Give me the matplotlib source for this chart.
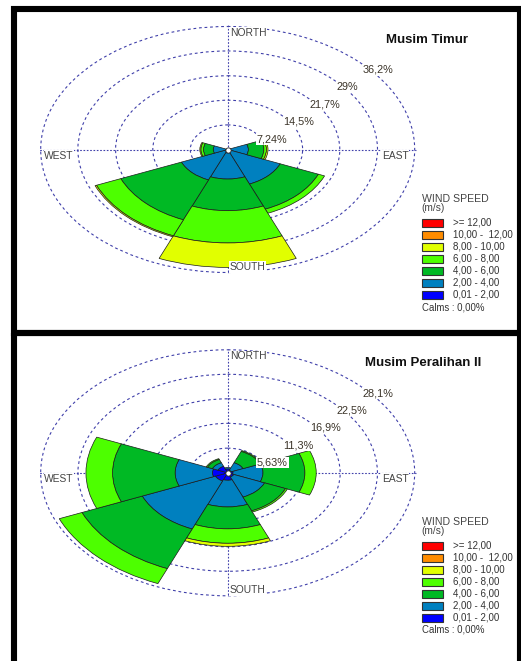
import numpy as np
import matplotlib
matplotlib.use("Agg")
import matplotlib.pyplot as plt
from matplotlib.patches import Rectangle

plt.rcParams.update({
	"font.family": ["Liberation Sans", "DejaVu Sans"],
})

# directions in degrees: N, NE, E, SE, S, SW, W, NW
directions = [0, 45, 90, 135, 180, 225, 270, 315]
speed_labels = ["0,01 - 2,00", "2,00 - 4,00", "4,00 - 6,00", "6,00 - 8,00",
				"8,00 - 10,00", "10,00 -  12,00", ">= 12,00"]
speed_colors = ["#0000ff", "#0080bf", "#00b924", "#4dff00", "#e1ff00", "#ff8c00", "#ff0000"]
compass = ["NORTH", "SOUTH", "WEST", "EAST"]

# Musim Timur, frequency (%) per direction for each speed class
timur_0_2 = [0, 0, 0.3, 0.6, 1.0, 0.6, 0.3, 0]
timur_2_4 = [0, 0, 3.7, 10.4, 7.7, 9.1, 2.5, 0]
timur_4_6 = [0, 0, 3.0, 8.0, 9.3, 12.7, 1.9, 0]
timur_6_8 = [0, 0, 0.5, 1.3, 9.5, 5.1, 0.5, 0]
timur_8_10 = [0, 0, 0.3, 0, 7.2, 0.3, 0.2, 0]
timur_10_12 = [0, 0, 0, 0, 0, 0, 0, 0]
timur_12 = [0, 0, 0, 0, 0, 0, 0, 0]
timur_rings = [7.24, 14.5, 21.7, 29, 36.2]
timur_ring_labels = ["7,24%", "14,5%", "21,7%", "29%", "36,2%"]

# Musim Peralihan II
peralihan_0_2 = [0.9, 0.6, 0.8, 1.0, 1.7, 2.0, 2.3, 1.6]
peralihan_2_4 = [0.3, 1.9, 4.5, 5.0, 6.1, 11.9, 5.6, 0.9]
peralihan_4_6 = [0, 2.8, 6.3, 3.4, 5.0, 9.8, 9.4, 0.8]
peralihan_6_8 = [0, 0.2, 1.7, 0.3, 3.3, 3.7, 4.0, 0.2]
peralihan_8_10 = [0, 0, 0, 0, 0.7, 0, 0, 0]
peralihan_10_12 = [0, 0, 0, 0, 0, 0, 0, 0]
peralihan_12 = [0, 0, 0, 0, 0, 0, 0, 0]
peralihan_rings = [5.63, 11.3, 16.9, 22.5, 28.1]
peralihan_ring_labels = ["5,63%", "11,3%", "16,9%", "22,5%", "28,1%"]

W, H = 521, 661
fig = plt.figure(figsize=(W / 100, H / 100), dpi=100)

# overlay in pixel coordinates for frames, titles and legends
ov = fig.add_axes([0, 0, 1, 1])
ov.set_xlim(0, W)
ov.set_ylim(H, 0)
ov.axis("off")
ov.add_patch(Rectangle((14, 9), 505.5, 323.7, fill=False, ec="black", lw=4.4, clip_on=False))
ov.add_patch(Rectangle((14, 332.7), 505.5, 340, fill=False, ec="black", lw=4.4, clip_on=False))

pad = 1.01  # a little room so the outer ring is not clipped
grid_col = "#4040aa"


def draw_rose(cy, bins, rings, ring_labels):
	rh, rv = 187 * pad, 123 * pad
	rect = [(227.7 - rh) / W, 1 - (cy + rv) / H, 2 * rh / W, 2 * rv / H]
	ax = fig.add_axes(rect, projection="polar")
	ax.set_aspect("auto")
	ax.set_theta_zero_location("N")
	ax.set_theta_direction(-1)
	theta = np.deg2rad(directions)
	bottom = np.zeros(len(directions))
	for values, c in zip(bins, speed_colors):
		values = np.array(values, dtype=float)
		m = values > 0
		if m.any():
			ax.bar(theta[m], values[m], width=np.deg2rad(45), bottom=bottom[m],
				   color=c, edgecolor="#1a1a1a", linewidth=0.5, zorder=2)
		bottom += values
	ax.set_ylim(0, rings[-1] * pad)
	ax.set_xticks(np.deg2rad([0, 90, 180, 270]))
	ax.set_xticklabels([""] * 4)
	ax.set_yticks(rings)
	ax.set_yticklabels([""] * len(rings))
	ax.grid(True, color=grid_col, linestyle=(0, (2.5, 2.5)), linewidth=0.8)
	ax.xaxis.grid(True, color=grid_col, linestyle=(0, (1.5, 1.5)), linewidth=0.8)
	ax.set_axisbelow(True)
	ax.spines["polar"].set_visible(False)
	ax.patch.set_alpha(0)
	for r, lab in zip(rings, ring_labels):
		ax.annotate(lab, xy=(np.deg2rad(45), r), xytext=(2.0, -5.2), textcoords="offset points",
					ha="left", va="center", fontsize=7.8, color="#3a3328",
					bbox=dict(fc="white", ec="none", pad=0.6), zorder=4)
	ax.plot([0], [0], "o", ms=3.8, mfc="white", mec="#222222", mew=0.6, zorder=5)

	# compass labels (pixel positions, drawn above the bars)
	pos = [(230, cy - 113.5), (230, cy + 120.5), (44.3, cy + 9.2), (381.7, cy + 9.2)]
	for (x, y), lab in zip(pos, compass):
		ax.text(x, y, lab, transform=ov.transData, ha="left", va="baseline", fontsize=7.4,
				color="#444444", bbox=dict(fc="white", ec="none", pad=0.4), zorder=6)
	return ax


def draw_legend(y0, title, tx):
	ov.text(tx, y0 - 180.5, title, ha="center", va="baseline", fontsize=9.5, fontweight="bold", color="#111111")
	ov.text(421.7, y0 - 21.5, "WIND SPEED", ha="left", va="baseline", fontsize=7.6, color="#444444")
	ov.text(421.7, y0 - 12.3, "(m/s)", ha="left", va="baseline", fontsize=7.3, color="#444444")
	for i, (lab, c) in enumerate(zip(speed_labels[::-1], speed_colors[::-1])):
		yc = y0 + i * 12
		ov.add_patch(Rectangle((421.7, yc - 4), 21.5, 8, fc=c, ec="#333333", lw=0.8))
		ov.text(452.7, yc + 2.5, lab, ha="left", va="baseline", fontsize=7.0, color="#333333")
	ov.text(421.7, y0 + 86.7, "Calms : 0,00%", ha="left", va="baseline", fontsize=6.9, color="#333333")


draw_rose(149.5, [timur_0_2, timur_2_4, timur_4_6, timur_6_8, timur_8_10, timur_10_12, timur_12],
		  timur_rings, timur_ring_labels)
draw_legend(223.3, "Musim Timur", 427)

draw_rose(472.8, [peralihan_0_2, peralihan_2_4, peralihan_4_6, peralihan_6_8, peralihan_8_10,
				  peralihan_10_12, peralihan_12], peralihan_rings, peralihan_ring_labels)
draw_legend(546.3, "Musim Peralihan II", 423)

plt.savefig("out.png", dpi=100)
